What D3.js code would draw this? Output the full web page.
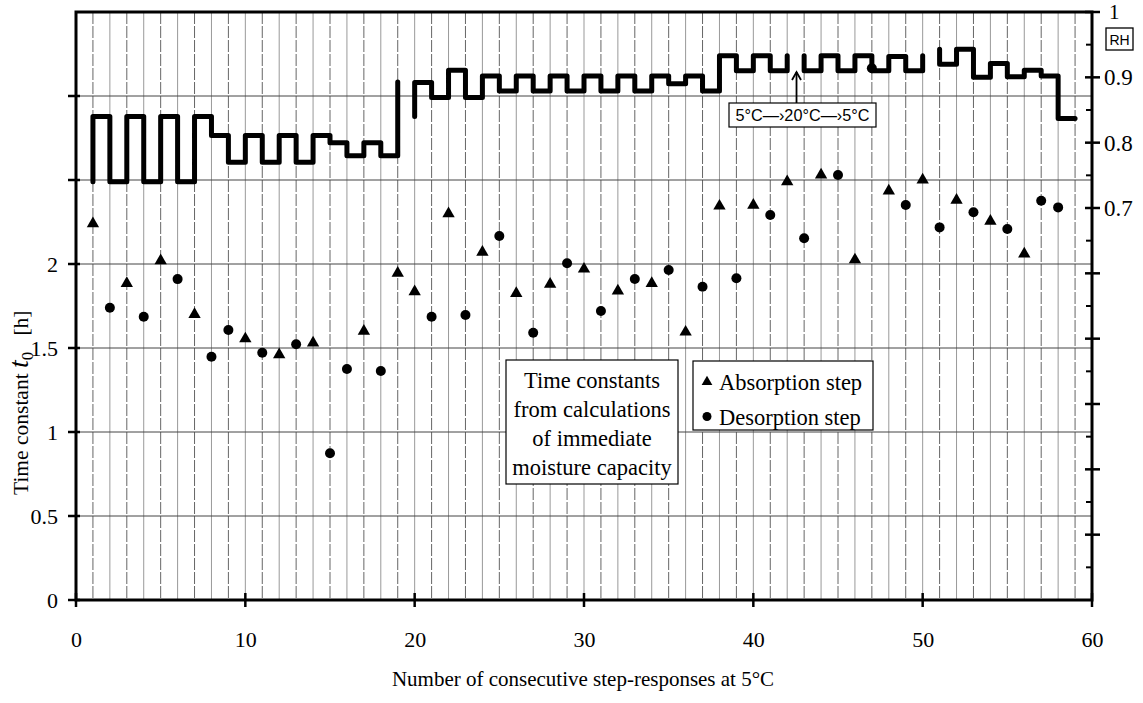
<!DOCTYPE html>
<html><head><meta charset="utf-8">
<script src="https://cdn.jsdelivr.net/npm/d3@7"></script>
<style>
html,body{margin:0;padding:0;background:#fff;}
svg{display:block;}
</style>
</head><body>
<svg id="chart" width="1143" height="703"></svg>
<script>
// ---------------- DATA ----------------
const xTicks = [0, 10, 20, 30, 40, 50, 60];
const leftTicks = [0, 0.5, 1, 1.5, 2];
const leftTickMarks = [0, 0.5, 1, 1.5, 2, 2.5, 3];
const rightLabels = [0.7, 0.8, 0.9, 1];
const rightMajor = [0.2, 0.3, 0.4, 0.5, 0.6, 0.7, 0.8, 0.9, 1.0];
const rightMinor = [0.15, 0.25, 0.35, 0.45, 0.55, 0.65, 0.75, 0.85, 0.95];

// Absorption step time constants [h]
const absX = [1, 3, 5, 7, 10, 12, 14, 17, 19, 20, 22, 24, 26, 28, 30, 32, 34, 36, 38, 40, 42, 44, 46, 48, 50, 52, 54, 56];
const absY = [2.24, 1.885, 2.02, 1.70, 1.555, 1.46, 1.53, 1.60, 1.945, 1.835, 2.30, 2.07, 1.825, 1.88, 1.97, 1.84, 1.885, 1.595, 2.345, 2.35, 2.49, 2.53, 2.025, 2.435, 2.50, 2.38, 2.255, 2.06];
// Desorption step time constants [h]
const desX = [2, 4, 6, 8, 9, 11, 13, 15, 16, 18, 21, 23, 25, 27, 29, 31, 33, 35, 37, 39, 41, 43, 45, 47, 49, 51, 53, 55, 57, 58];
const desY = [1.74, 1.686, 1.91, 1.448, 1.607, 1.472, 1.522, 0.873, 1.375, 1.363, 1.686, 1.696, 2.167, 1.591, 2.004, 1.72, 1.911, 1.964, 1.865, 1.915, 2.292, 2.153, 2.53, 3.165, 2.351, 2.218, 2.308, 2.208, 2.377, 2.337];

// Relative humidity step runs: [step number, RH level held until next step]
const rhRun1 = [[1,0.74],[1,0.84],[2,0.74],[3,0.84],[4,0.74],[5,0.84],[6,0.74],[7,0.84],[8,0.811],[9,0.770],[10,0.811],[11,0.770],[12,0.811],[13,0.770],[14,0.811],[15,0.800],[16,0.780],[17,0.800],[18,0.780],[19,0.893]];
const rhRun2 = [[20,0.84],[20,0.892],[21,0.869],[22,0.911],[23,0.869],[24,0.902],[25,0.879],[26,0.902],[27,0.879],[28,0.902],[29,0.879],[30,0.902],[31,0.879],[32,0.902],[33,0.879],[34,0.902],[35,0.890],[36,0.902],[37,0.879],[38,0.933],[39,0.910],[40,0.933],[41,0.910],[42,0.933]];
const rhRun3 = [[43,0.933],[43,0.910],[44,0.933],[45,0.910],[46,0.933],[47,0.910],[48,0.932],[49,0.910],[50,0.933]];
const rhRun4 = [[51,0.943],[51,0.920],[52,0.943],[53,0.900],[54,0.921],[55,0.901],[56,0.911],[57,0.902],[58,0.837],[59,0.837]];

const noteStep = 42.55;
const boxLines = ["Time constants", "from calculations", "of immediate", "moisture capacity"];

// ---------------- CHART ----------------
const svg = d3.select("#chart");
const L = 76, R = 1092, T = 12, B = 600;
const x = d3.scaleLinear().domain([0, 60]).range([L, R]);
const yL = d3.scaleLinear().domain([0, 3.5]).range([B, T]);
const yR = d3.scaleLinear().domain([0.1, 1.0]).range([B, T]);
const serif = "'Liberation Serif','Times New Roman',Times,serif";
const sans = "'Liberation Sans',Arial,Helvetica,sans-serif";

// vertical grid
svg.append("g").selectAll("line").data(d3.range(1, 60)).join("line")
  .attr("x1", d => x(d)).attr("x2", d => x(d))
  .attr("y1", T).attr("y2", B)
  .attr("stroke", d => d % 2 ? "#666" : "#999")
  .attr("stroke-dasharray", d => d % 2 ? "12,2" : null)
  .attr("stroke-width", 1);

// horizontal grid
svg.append("g").selectAll("line").data([0.5, 1, 1.5, 2, 2.5, 3]).join("line")
  .attr("x1", L).attr("x2", R)
  .attr("y1", d => yL(d)).attr("y2", d => yL(d))
  .attr("stroke", "#444").attr("stroke-width", 1);

// RH step line
const stepLine = d3.line().x(d => x(d[0])).y(d => yR(d[1])).curve(d3.curveStepAfter);
svg.append("g").selectAll("path").data([rhRun1, rhRun2, rhRun3, rhRun4]).join("path")
  .attr("d", stepLine)
  .attr("fill", "none").attr("stroke", "#000")
  .attr("stroke-width", 5).attr("stroke-linejoin", "round").attr("stroke-linecap", "round");

// frame
svg.append("rect").attr("x", L).attr("y", T).attr("width", R - L).attr("height", B - T)
  .attr("fill", "none").attr("stroke", "#000").attr("stroke-width", 3);

// bottom axis
const xAxis = d3.axisBottom(x).tickValues(xTicks).tickSize(0).tickPadding(31);
const gx = svg.append("g").attr("transform", `translate(0,${B})`).call(xAxis);
gx.select(".domain").remove();
gx.selectAll("text").attr("font-family", serif).attr("font-size", 22).attr("fill", "#000");
svg.append("g").selectAll("line").data(xTicks).join("line")
  .attr("x1", d => x(d)).attr("x2", d => x(d))
  .attr("y1", B - 7).attr("y2", B + 7)
  .attr("stroke", "#000").attr("stroke-width", 2.5);

// left axis
const yAxis = d3.axisLeft(yL).tickValues(leftTicks).tickSize(0).tickPadding(18).tickFormat(d3.format("~g"));
const gy = svg.append("g").attr("transform", `translate(${L},0)`).call(yAxis);
gy.select(".domain").remove();
gy.selectAll("text").attr("font-family", serif).attr("font-size", 22).attr("fill", "#000");
svg.append("g").selectAll("line").data(leftTickMarks).join("line")
  .attr("x1", L - 8).attr("x2", L + 4)
  .attr("y1", d => yL(d)).attr("y2", d => yL(d))
  .attr("stroke", "#000").attr("stroke-width", 2.5);

// right axis
svg.append("g").selectAll("line").data(rightMajor).join("line")
  .attr("x1", R - 7).attr("x2", R + 8)
  .attr("y1", d => yR(d)).attr("y2", d => yR(d))
  .attr("stroke", "#000").attr("stroke-width", 2.5);
svg.append("g").selectAll("line").data(rightMinor).join("line")
  .attr("x1", R - 6).attr("x2", R)
  .attr("y1", d => yR(d)).attr("y2", d => yR(d))
  .attr("stroke", "#000").attr("stroke-width", 2);
const yAxisR = d3.axisRight(yR).tickValues(rightLabels).tickSize(0).tickPadding(12).tickFormat(d3.format("~g"));
const gyr = svg.append("g").attr("transform", `translate(${R},0)`).call(yAxisR);
gyr.select(".domain").remove();
gyr.selectAll("text").attr("font-family", serif).attr("font-size", 23).attr("fill", "#000");
gyr.selectAll(".tick").filter(d => d === 1).select("text")
  .attr("font-size", 21).attr("dy", "0.3em").attr("x", 17);

// RH label box
const rhG = svg.append("g");
rhG.append("rect").attr("x", 1106).attr("y", 28).attr("width", 27).attr("height", 22)
  .attr("fill", "#fff").attr("stroke", "#000").attr("stroke-width", 1.3);
rhG.append("text").attr("x", 1119.5).attr("y", 44.5).attr("text-anchor", "middle")
  .attr("font-family", sans).attr("font-size", 14).text("RH");

// scatter: absorption triangles
const tri = d3.symbol().type(d3.symbolTriangle).size(66);
svg.append("g").selectAll("path").data(absX.map((d, i) => [d, absY[i]])).join("path")
  .attr("d", tri)
  .attr("transform", d => `translate(${x(d[0])},${yL(d[1])})`)
  .attr("fill", "#000");
// desorption circles
svg.append("g").selectAll("circle").data(desX.map((d, i) => [d, desY[i]])).join("circle")
  .attr("cx", d => x(d[0])).attr("cy", d => yL(d[1])).attr("r", 5)
  .attr("fill", "#000");

// annotation: temperature cycle
const ax = x(noteStep);
const ann = svg.append("g");
ann.append("line").attr("x1", ax).attr("x2", ax).attr("y1", 103).attr("y2", 72)
  .attr("stroke", "#000").attr("stroke-width", 1.8);
ann.append("path").attr("d", `M${ax - 4.5},${80} L${ax},${72} L${ax + 4.5},${80}`)
  .attr("fill", "none").attr("stroke", "#000").attr("stroke-width", 1.8);
ann.append("rect").attr("x", 729).attr("y", 103).attr("width", 147).attr("height", 24)
  .attr("fill", "#fff").attr("stroke", "#000").attr("stroke-width", 1.2);
ann.append("text").attr("x", 802.5).attr("y", 121).attr("text-anchor", "middle")
  .attr("font-family", sans).attr("font-size", 16).attr("textLength", 134)
  .attr("lengthAdjust", "spacingAndGlyphs").text("5°C—›20°C—›5°C");

// text box
const tb = svg.append("g");
tb.append("rect").attr("x", 506).attr("y", 360).attr("width", 172).attr("height", 124)
  .attr("fill", "#fff").attr("stroke", "#000").attr("stroke-width", 1.2);
tb.selectAll("text").data(boxLines).join("text")
  .attr("x", 592).attr("y", (d, i) => 387.5 + i * 29.3)
  .attr("text-anchor", "middle").attr("font-family", serif).attr("font-size", 22.5)
  .text(d => d);

// legend
const lg = svg.append("g");
lg.append("rect").attr("x", 693).attr("y", 361).attr("width", 180).attr("height", 69)
  .attr("fill", "#fff").attr("stroke", "#000").attr("stroke-width", 1.2);
lg.append("path").attr("d", d3.symbol().type(d3.symbolTriangle).size(50))
  .attr("transform", "translate(707,382)");
lg.append("circle").attr("cx", 707).attr("cy", 416.5).attr("r", 4.5);
lg.append("text").attr("x", 719).attr("y", 390).attr("font-family", serif).attr("font-size", 22.5).text("Absorption step");
lg.append("text").attr("x", 719).attr("y", 424.5).attr("font-family", serif).attr("font-size", 22.5).text("Desorption step");

// axis titles
svg.append("text").attr("x", 583).attr("y", 686).attr("text-anchor", "middle")
  .attr("font-family", serif).attr("font-size", 21)
  .text("Number of consecutive step-responses at 5°C");

const yt = svg.append("text").attr("transform", "translate(28,495) rotate(-90)")
  .attr("text-anchor", "start").attr("font-family", serif).attr("font-size", 21.5);
yt.append("tspan").text("Time constant ");
yt.append("tspan").attr("font-style", "italic").attr("font-size", 28).text("t");
yt.append("tspan").attr("font-size", 17).attr("dy", 5).text("0");
yt.append("tspan").attr("dy", -5).text("\u00a0\u00a0\u00a0[h]");
</script>
</body></html>
